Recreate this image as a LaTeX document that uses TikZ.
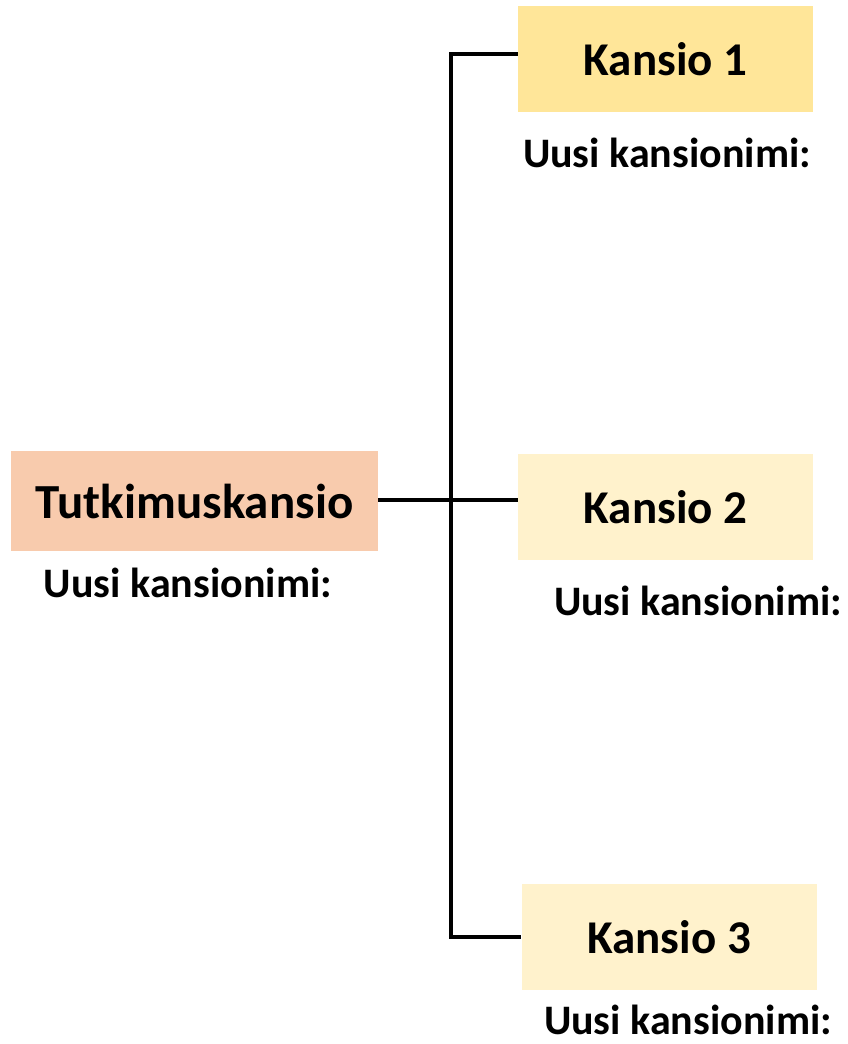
\documentclass[tikz,border=0pt]{standalone}
\usepackage{fontspec}
\setmainfont{Carlito}
\definecolor{peach}{HTML}{F8CBAD}
\definecolor{gold}{HTML}{FFE699}
\definecolor{paleyellow}{HTML}{FFF2CC}
\tikzset{
  folder/.style={minimum width=295pt, minimum height=106pt, inner sep=0pt,
    font=\fontsize{47}{50}\selectfont\bfseries},
  namelabel/.style={anchor=base, inner sep=0pt, font=\fontsize{42}{46}\selectfont\bfseries},
  link/.style={line width=3.5pt, black}
}
\begin{document}
\begin{tikzpicture}[x=1pt,y=-1pt]
\useasboundingbox (0,0) rectangle (848,1044);
\node[folder, fill=peach, minimum width=367pt, minimum height=100pt, font=\fontsize{49}{52}\selectfont\bfseries] (tut) at (194.5,501) {Tutkimuskansio};
\node[folder, fill=gold] (k1) at (665.5,59) {Kansio 1};
\node[folder, fill=paleyellow] (k2) at (665.5,507) {Kansio 2};
\node[folder, fill=paleyellow] (k3) at (669,937) {Kansio 3};
\node[namelabel] (l0) at (188,597) {Uusi kansionimi:};
\node[namelabel] (l1) at (667,167) {Uusi kansionimi:};
\node[namelabel] (l2) at (698,615) {Uusi kansionimi:};
\node[namelabel] (l3) at (688,1034) {Uusi kansionimi:};
\coordinate (top) at (451,54);
\coordinate (bot) at (451,937);
\draw[link] (k1.west |- top) -- (top) -- (bot) -- (k3.west |- bot);
\draw[link] (tut.east |- 0,500) -- (k2.west |- 0,500);
\end{tikzpicture}
\end{document}
